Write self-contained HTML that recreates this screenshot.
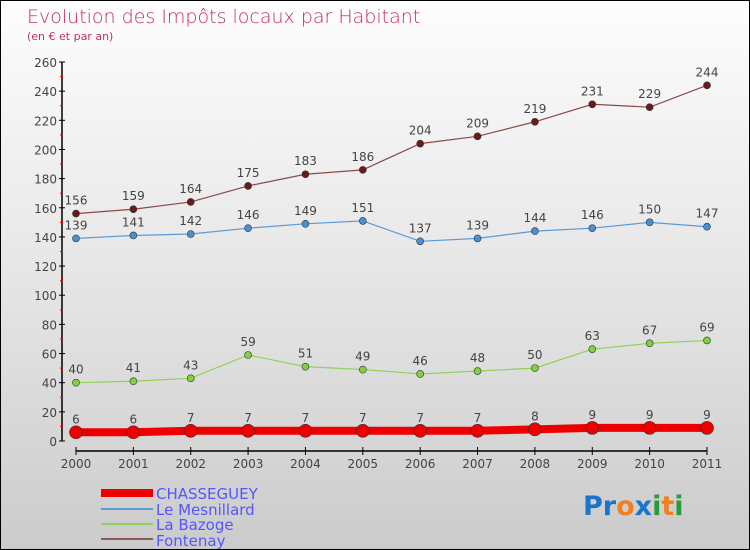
<!DOCTYPE html>
<html><head><meta charset="utf-8"><style>
body{margin:0}
#wrap{width:748px;height:548px;border:1px solid #000;background:linear-gradient(#fdfdfd,#e6e6e6 50%,#cbcbcb);position:relative;overflow:hidden;font-family:"DejaVu Sans","Liberation Sans",sans-serif}
text{font-family:"DejaVu Sans","Liberation Sans",sans-serif}
</style></head><body>
<div id="wrap">
<svg id="chart" width="748" height="548">
<text x="26" y="22" font-size="19" fill="#c0305f" style="font-weight:200">Evolution des Impôts locaux par Habitant</text>
<text x="26" y="39" font-size="11" fill="#c0305f">(en € et par an)</text>
<g id="axes"></g><g id="series"></g>
<g>
<rect x="100" y="488" width="52" height="8" fill="#ee0000"/>
<text x="155" y="498" font-size="15" fill="#5555ff">CHASSEGUEY</text>
<rect x="100" y="507" width="52" height="2" fill="#5b9bd5"/>
<text x="155" y="514" font-size="15" fill="#5555ff">Le Mesnillard</text>
<rect x="100" y="522" width="52" height="2" fill="#8fd15a"/>
<text x="155" y="529" font-size="15" fill="#5555ff">La Bazoge</text>
<rect x="100" y="537" width="52" height="2" fill="#8b5a5a"/>
<text x="155" y="545" font-size="15" fill="#5555ff">Fontenay</text>
</g>
<text x="582" y="514" font-size="27" font-weight="bold"><tspan fill="#1a75c9">Pr</tspan><tspan fill="#f08020">o</tspan><tspan fill="#1a75c9">x</tspan><tspan fill="#2a9a3a">i</tspan><tspan fill="#f08020">t</tspan><tspan fill="#2a9a3a">i</tspan></text>
</svg></div>
<script>
const years=[2000,2001,2002,2003,2004,2005,2006,2007,2008,2009,2010,2011];
const yTicks=[0,20,40,60,80,100,120,140,160,180,200,220,240,260];
const fontenay=[156,159,164,175,183,186,204,209,219,231,229,244];
const mesnillard=[139,141,142,146,149,151,137,139,144,146,150,147];
const bazoge=[40,41,43,59,51,49,46,48,50,63,67,69];
const chasseguey=[6,6,7,7,7,7,7,7,8,9,9,9];
const NS="http://www.w3.org/2000/svg";
const x=i=>75+i*(706-75)/(years.length-1);
const y=v=>440-v*(440-61)/260;
function mk(t,a,p){const e=document.createElementNS(NS,t);for(const k in a)e.setAttribute(k,a[k]);p.appendChild(e);return e;}
const ax=document.getElementById('axes');
let e=mk('line',{x1:61,y1:61,x2:61,y2:440,stroke:'#000','stroke-width':1.5},ax);


e=mk('line',{x1:75,y1:450,x2:706,y2:450,stroke:'#000','stroke-width':1.5},ax);


yTicks.forEach((v,i)=>{
 mk('line',{x1:58,y1:y(v),x2:64,y2:y(v),stroke:'#000'},ax);
 if(i<yTicks.length-1)mk('line',{x1:59,y1:y(v+10),x2:62,y2:y(v+10),stroke:'#e00'},ax);
 const t=mk('text',{x:56,y:y(v)+5,'font-size':12,fill:'#444','text-anchor':'end'},ax);t.textContent=v;
 
 
});
years.forEach((yr,i)=>{
 mk('line',{x1:x(i),y1:446,x2:x(i),y2:454,stroke:'#000'},ax);
 const t=mk('text',{x:x(i),y:467,'font-size':12,fill:'#444','text-anchor':'middle'},ax);t.textContent=yr;
 
 
});
const sg=document.getElementById('series');
function series(d,name,col,dot,w,r){
 const g=mk('g',{},sg);
 
 
 mk('polyline',{points:d.map((v,i)=>x(i)+','+y(v)).join(' '),fill:'none',stroke:col,'stroke-width':w},g);
 d.forEach((v,i)=>{
  const c=mk('circle',{cx:x(i),cy:y(v),r:r,fill:dot,stroke:'#333','stroke-width':0.6},g);
  
  
  const t=mk('text',{x:x(i),y:y(v)-9,'font-size':12,fill:'#444','text-anchor':'middle'},g);t.textContent=v;
  
  
 });
}
series(fontenay,'fontenay','#8b4a4a','#6b1a1a',1.2,3.5);
series(mesnillard,'le-mesnillard','#5b9bd5','#4a90d0',1.2,3.5);
series(bazoge,'la-bazoge','#8fd15a','#80d040',1.2,3.5);
series(chasseguey,'chasseguey','#ee0000','#ee0000',8,6.5);
</script>
</body></html>
